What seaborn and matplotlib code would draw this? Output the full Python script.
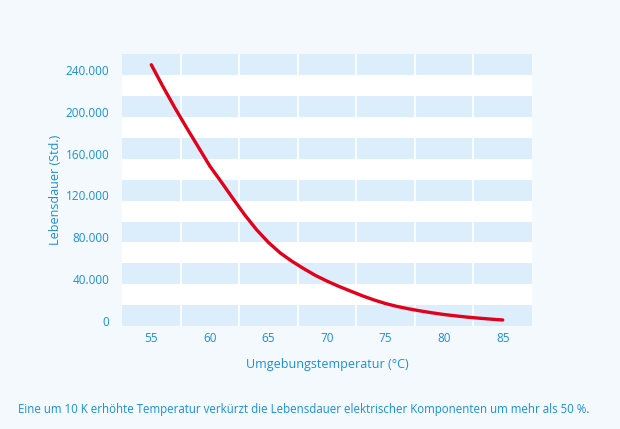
import matplotlib
matplotlib.use("Agg")
import matplotlib.pyplot as plt
import seaborn as sns
import pandas as pd
import numpy as np
from matplotlib.ticker import FuncFormatter

temperature = [55, 56, 57, 58, 59, 60, 61, 62, 63, 64, 65, 66, 67, 68, 69, 70,
               71, 72, 73, 74, 75, 76, 77, 78, 79, 80, 81, 82, 83, 84, 85]
lifetime = [245000, 224000, 204000, 185000, 166500, 148000, 132500, 116500, 101000, 87000,
            75000, 65000, 57000, 50000, 43500, 38000, 33000, 28500, 24000, 20000,
            16500, 13700, 11400, 9400, 7600, 6000, 4700, 3500, 2500, 1600, 800]
x_ticks = [55, 60, 65, 70, 75, 80, 85]
y_ticks = [0, 40000, 80000, 120000, 160000, 200000, 240000]

BLUE = "#1a8fd8"
RED = "#e2001a"
BAND = "#dcedfb"
BG = "#f4f9fd"

sns.set_theme(style="white")
plt.rcParams['font.family'] = ['Open Sans', 'DejaVu Sans']

df = pd.DataFrame({"temp": temperature, "life": lifetime})

fig = plt.figure(figsize=(6.2, 4.29), dpi=100, facecolor=BG)
ax = fig.add_axes([0.1968, 0.240, 0.6613, 0.6334])
ax.set_facecolor("white")

ax.set_xlim(52.5, 87.5)
ax.set_ylim(-5000, 255000)

for t in y_ticks:
    ax.axhspan(t - 5000, t + 15000, color=BAND, lw=0, zorder=0)
for xv in np.arange(57.5, 85, 5):
    ax.axvline(xv, color="white", lw=1.2, zorder=1)

sns.lineplot(data=df, x="temp", y="life", ax=ax, color=RED, lw=2.4, zorder=3)

ax.set_xticks(x_ticks)
ax.set_yticks(y_ticks)
ax.yaxis.set_major_formatter(FuncFormatter(lambda v, p: f"{int(v):,}".replace(",", ".")))
ax.tick_params(axis="both", colors=BLUE, labelsize=8.5, length=0)
ax.tick_params(axis="y", pad=9)
ax.tick_params(axis="x", pad=4)
for lab in ax.get_xticklabels() + ax.get_yticklabels():
    lab.set_fontweight(500)
for s in ax.spines.values():
    s.set_visible(False)

ax.set_xlabel("Umgebungstemperatur (°C)", color=BLUE, fontsize=9, labelpad=10, fontweight=500)
ax.set_ylabel("Lebensdauer (Std.)", color=BLUE, fontsize=9, labelpad=3, fontweight=500)

fig.text(18 / 620, 1 - 410 / 429, "Eine um 10 K erhöhte Temperatur verkürzt die Lebensdauer elektrischer Komponenten um mehr als 50 %.",
         color=BLUE, fontsize=8.3, ha="left", va="center", fontweight=500)

fig.savefig("out.png", dpi=100, facecolor=BG)
